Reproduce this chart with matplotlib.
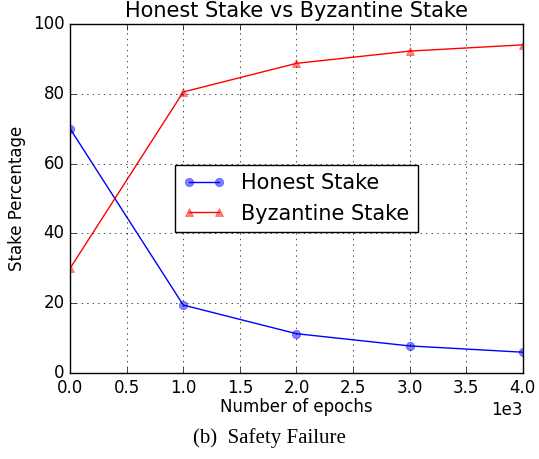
import matplotlib
matplotlib.use('Agg')
import matplotlib.pyplot as plt

plt.style.use('classic')

epochs = [0, 1000, 2000, 3000, 4000]
honest = [70.0, 19.5, 11.3, 7.8, 6.0]
byzantine = [30.0, 80.5, 88.7, 92.2, 94.0]

fig = plt.figure(figsize=(5.39, 4.59), dpi=100)
ax = fig.add_axes([0.130, 0.187, 0.840, 0.761])

ax.plot(epochs, honest, color='blue', marker='o', markersize=6,
        markeredgecolor=(0, 0, 1, 0.5), markerfacecolor=(0, 0, 1, 0.5),
        label='Honest Stake')
ax.plot(epochs, byzantine, color='red', marker='^', markersize=6,
        markeredgecolor=(1, 0, 0, 0.5), markerfacecolor=(1, 0, 0, 0.5),
        label='Byzantine Stake')

ax.set_xlim(0, 4000)
ax.set_ylim(0, 100)
ax.ticklabel_format(axis='x', style='sci', scilimits=(0, 0), useMathText=False)
ax.set_title('Honest Stake vs Byzantine Stake', fontsize=15, y=1.0)
ax.set_xlabel('Number of epochs', fontsize=12, labelpad=1)
ax.set_ylabel('Stake Percentage', fontsize=12)
ax.tick_params(labelsize=12)
ax.xaxis.get_offset_text().set_fontsize(12)
ax.grid(True)
ax.legend(loc='center', fontsize=15, numpoints=2)

fig.text(0.5, 0.046, '(b)  Safety Failure', ha='center', va='center', fontsize=15,
         family='Liberation Serif')

fig.savefig('out.png', dpi=100)
